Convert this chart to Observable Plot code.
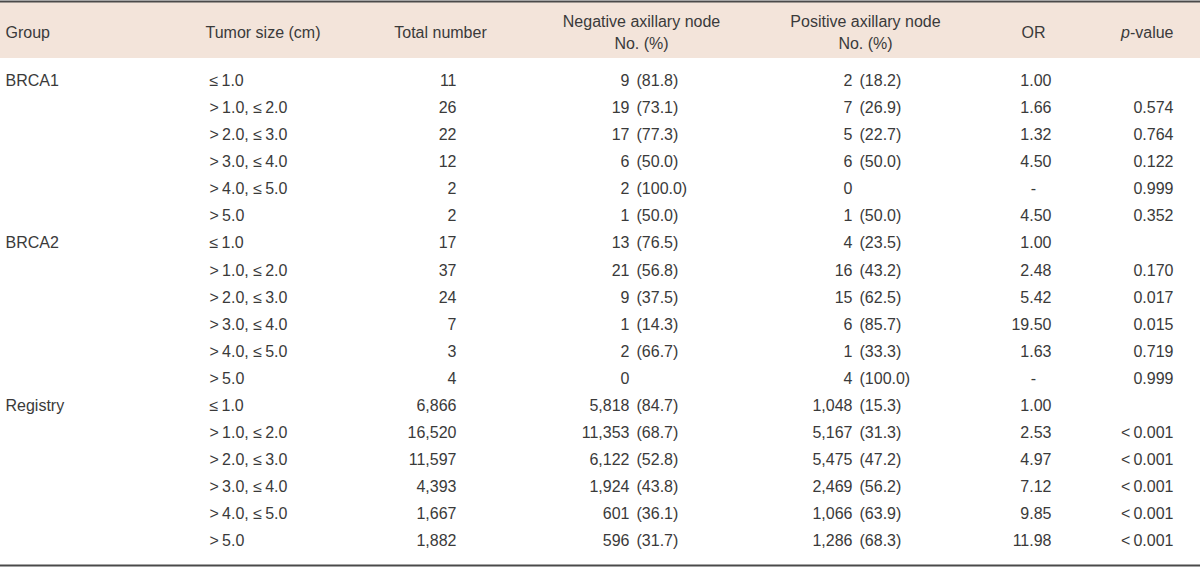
<!DOCTYPE html>
<html><head><meta charset="utf-8">
<script src="https://cdn.jsdelivr.net/npm/d3@7"></script>
<script src="https://cdn.jsdelivr.net/npm/@observablehq/plot@0.6"></script>
<style>body{margin:0;background:#fff}</style>
</head><body><div id="chart"></div>
<script>
// ---- data ----
const groups = ["BRCA1", "BRCA2", "Registry"];
const sizes = ["≤1.0", ">1.0, ≤2.0", ">2.0, ≤3.0", ">3.0, ≤4.0", ">4.0, ≤5.0", ">5.0"];
const totals = [11, 26, 22, 12, 2, 2, 17, 37, 24, 7, 3, 4, 6866, 16520, 11597, 4393, 1667, 1882];
const negN = [9, 19, 17, 6, 2, 1, 13, 21, 9, 1, 2, 0, 5818, 11353, 6122, 1924, 601, 596];
const negPct = ["81.8", "73.1", "77.3", "50.0", "100.0", "50.0", "76.5", "56.8", "37.5", "14.3", "66.7", "", "84.7", "68.7", "52.8", "43.8", "36.1", "31.7"];
const posN = [2, 7, 5, 6, 0, 1, 4, 16, 15, 6, 1, 4, 1048, 5167, 5475, 2469, 1066, 1286];
const posPct = ["18.2", "26.9", "22.7", "50.0", "", "50.0", "23.5", "43.2", "62.5", "85.7", "33.3", "100.0", "15.3", "31.3", "47.2", "56.2", "63.9", "68.3"];
const oddsRatio = ["1.00", "1.66", "1.32", "4.50", "-", "4.50", "1.00", "2.48", "5.42", "19.50", "1.63", "-", "1.00", "2.53", "4.97", "7.12", "9.85", "11.98"];
const pValues = ["", "0.574", "0.764", "0.122", "0.999", "0.352", "", "0.170", "0.017", "0.015", "0.719", "0.999", "", "<0.001", "<0.001", "<0.001", "<0.001", "<0.001"];
const headers = ["Group", "Tumor size (cm)", "Total number", "Negative axillary node\nNo. (%)", "Positive axillary node\nNo. (%)", "OR"];

// ---- layout ----
const W = 1200, H = 568;
const ROW0 = 80.5, ROWSTEP = 27.06;
const u = px => (px - ROW0) / ROWSTEP; // pixel offset -> row units
const C = {group: 5, size: 209, sizeHead: 205, totalEnd: 456, totalHead: 440,
  negEnd: 629, negPct: 636, negHead: 641, posEnd: 852, posPct: 859, posHead: 865,
  orEnd: 1051, orMid: 1033, pEnd: 1173, pItalicEnd: 1129.5};
const INK = "#3a3a3a", FS = 16;
const fmt = d3.format(",");
const spaced = s => s.replace(/([<>≤])/g, "$1\u2009");

const rows = totals.map((t, i) => ({
  i,
  group: i % 6 === 0 ? groups[i / 6] : "",
  size: spaced(sizes[i % 6]),
  total: fmt(t),
  negN: fmt(negN[i]),
  negPct: negPct[i] ? `(${negPct[i]})` : "",
  posN: fmt(posN[i]),
  posPct: posPct[i] ? `(${posPct[i]})` : "",
  or: oddsRatio[i],
  p: spaced(pValues[i])
}));

const T = (data, x, text, anchor, extra = {}) =>
  Plot.text(data, {x, y: "i", text, textAnchor: anchor, fill: INK, fontSize: FS, ...extra});
const H1 = (txt, x, anchor, extra = {}) =>
  Plot.text([txt], {x, y: u(30), text: d => d, textAnchor: anchor, fill: INK, fontSize: FS, lineHeight: 1.375, ...extra});

const chart = Plot.plot({
  width: W, height: H, margin: 0,
  x: {domain: [0, W], range: [0, W], axis: null},
  y: {domain: [0, 17], range: [ROW0, ROW0 + 17 * ROWSTEP], axis: null},
  style: {fontFamily: "'Liberation Sans', Arial, sans-serif", background: "#fff"},
  marks: [
    Plot.rect([0], {x1: 0, x2: W, y1: u(2), y2: u(58), fill: "#f3e4da"}),
    Plot.ruleY([u(1)], {x1: 0, x2: W, stroke: "#4a4a4a", strokeWidth: 2}),
    Plot.ruleY([u(565)], {x1: 0, x2: W, stroke: "#4a4a4a", strokeWidth: 2}),
    // header
    H1(headers[0], C.group, "start"),
    H1(headers[1], C.sizeHead, "start"),
    H1(headers[2], C.totalHead, "middle"),
    H1(headers[3], C.negHead, "middle"),
    H1(headers[4], C.posHead, "middle"),
    H1(headers[5], C.orMid, "middle"),
    H1("p", C.pItalicEnd, "end", {fontStyle: "italic"}),
    H1("-value", C.pEnd, "end"),
    // body
    T(rows, C.group, "group", "start"),
    T(rows, C.size, "size", "start"),
    T(rows, C.totalEnd, "total", "end"),
    T(rows, C.negEnd, "negN", "end"),
    T(rows, C.negPct, "negPct", "start"),
    T(rows, C.posEnd, "posN", "end"),
    T(rows, C.posPct, "posPct", "start"),
    T(rows.filter(d => d.or !== "-"), C.orEnd, "or", "end"),
    T(rows.filter(d => d.or === "-"), C.orMid, "or", "middle"),
    T(rows, C.pEnd, "p", "end")
  ]
});
document.getElementById("chart").appendChild(chart);
</script>
</body></html>
